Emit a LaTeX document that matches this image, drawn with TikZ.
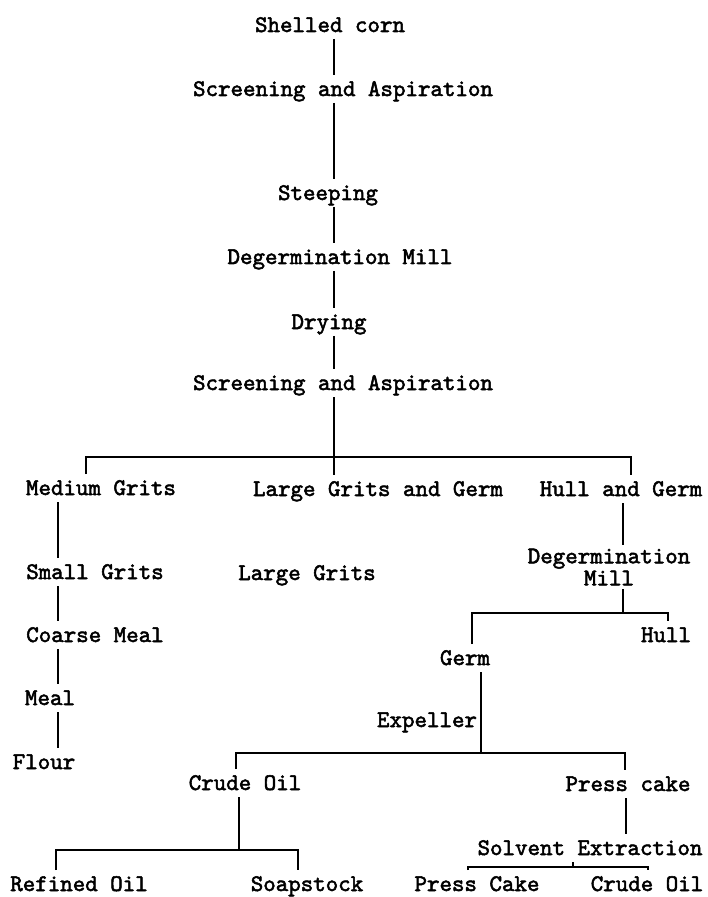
\documentclass[tikz,border=0pt]{standalone}
\usepackage{fontspec}
\setmonofont{lmmono10-regular}[Extension=.otf,AutoFakeBold=2.2]

\begin{document}
\begin{tikzpicture}[x=0.5pt,y=-0.5pt,line width=1pt,
  stage/.style={inner sep=0pt,outer sep=2pt,text height=8.5pt,text depth=1.5pt,
    font=\ttfamily\bfseries\fontsize{11.9}{12}\selectfont},
  stagetwo/.style={inner sep=0pt,outer sep=2pt,align=center,
    font=\ttfamily\bfseries\fontsize{11.9}{9.5}\selectfont}]
\useasboundingbox (0,0) rectangle (707,897);
% Columns and bars
\coordinate (spine) at (334,0);
\coordinate (colL) at (58,0);
\coordinate (colH) at (623,0);
\coordinate (colG) at (481,0);
\coordinate (colC) at (239,0);
\coordinate (colP) at (626,0);
\coordinate (colS) at (573,0);
\coordinate (b1l) at (86,457);  \coordinate (b1r) at (631,457);
\coordinate (b2l) at (472,613); \coordinate (b2r) at (668,613);
\coordinate (b3l) at (236,753); \coordinate (b3r) at (625,753);
\coordinate (b4l) at (56,850);  \coordinate (b4r) at (298,850);
\coordinate (b5l) at (468,867); \coordinate (b5r) at (648,867);
% Main line
\draw (330,25) node[stage](corn){Shelled corn};
\draw (343,89) node[stage](scrA){Screening and Aspiration};
\draw (328,193) node[stage](steep){Steeping};
\draw (340,257) node[stage](degm){Degermination Mill};
\draw (329,322) node[stage](dry){Drying};
\draw (343,383) node[stage](scrB){Screening and Aspiration};
\draw (corn.south -| spine) -- (scrA.north -| spine);
\draw (scrA.south -| spine) -- (steep.north -| spine);
\draw (steep.south -| spine) -- (degm.north -| spine);
\draw (degm.south -| spine) -- (dry.north -| spine);
\draw (dry.south -| spine) -- (scrB.north -| spine);
% First split
\draw (101,488) node[stage](medium){Medium Grits};
\draw (378,489) node[stage](lggerm){Large Grits and Germ};
\draw (621,489) node[stage](hullgerm){Hull and Germ};
\draw (scrB.south -| spine) -- (lggerm.north -| spine);
\draw (b1l |- medium.north) -- (b1l) -- (b1r) -- (b1r |- hullgerm.north);
% Grits and meal
\draw (95,572) node[stage](small){Small Grits};
\draw (307,573) node[stage](large){Large Grits};
\draw (95,635) node[stage](coarse){Coarse Meal};
\draw (50,698) node[stage](meal){Meal};
\draw (44,762) node[stage](flour){Flour};
\draw (medium.south -| colL) -- (small.north -| colL);
\draw (small.south -| colL) -- (coarse.north -| colL);
\draw (coarse.south -| colL) -- (meal.north -| colL);
\draw (meal.south -| colL) -- (flour.north -| colL);
% Hull and germ
\draw (609,567) node[stagetwo](degm2){Degermination\\Mill};
\draw (666,635) node[stage](hull){Hull};
\draw (465,658) node[stage](germ){Germ};
\draw (hullgerm.south -| colH) -- (degm2.north -| colH);
\draw (degm2.south -| colH) -- (colH |- b2l);
\draw (b2l |- germ.north) -- (b2l) -- (b2r) -- (b2r |- hull.north);
% Expeller
\draw (427,720) node[stage](expel){Expeller};
\draw (245,783) node[stage](crude1){Crude Oil};
\draw (628,784) node[stage](press1){Press cake};
\draw (germ.south -| colG) -- (colG |- b3l);
\draw (b3l |- crude1.north) -- (b3l) -- (b3r) -- (b3r |- press1.north);
% Refining
\draw (79,884) node[stage](refined){Refined Oil};
\draw (307,884) node[stage](soap){Soapstock};
\draw (crude1.south -| colC) -- (colC |- b4l);
\draw (b4l |- refined.north) -- (b4l) -- (b4r) -- (b4r |- soap.north);
% Solvent extraction
\draw (590,848) node[stage](solvent){Solvent Extraction};
\draw (477,884) node[stage](pcake){Press Cake};
\draw (647,884) node[stage](crude2){Crude Oil};
\draw (press1.south -| colP) -- (solvent.north -| colP);
\draw (solvent.south -| colS) -- (colS |- b5l);
\draw (b5l |- pcake.north) -- (b5l) -- (b5r) -- (b5r |- crude2.north);
\end{tikzpicture}
\end{document}
